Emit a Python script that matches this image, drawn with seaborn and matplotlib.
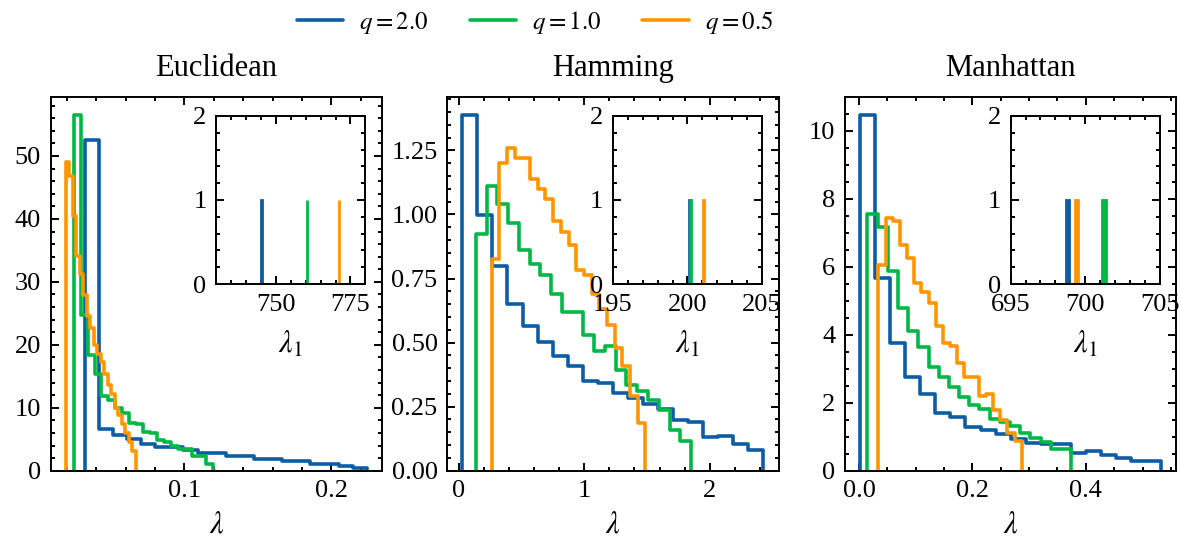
import numpy as np
import pandas as pd
import matplotlib
matplotlib.use("Agg")
import matplotlib.pyplot as plt
import seaborn as sns
from matplotlib.lines import Line2D
from matplotlib.ticker import MultipleLocator

# --- datos ---
metrics = ["Euclidean", "Hamming", "Manhattan"]
q_labels = [r"$q=2.0$", r"$q=1.0$", r"$q=0.5$"]
colors = ["#0C5DA5", "#00B945", "#FF9500"]

# rango (min, max) de cada histograma (20 bins) por q = 2.0, 1.0, 0.5
euc_ranges = [(0.0320, 0.2243), (0.0245, 0.1193), (0.0191, 0.0667)]
ham_ranges = [(0.030, 2.426), (0.137, 1.850), (0.264, 1.486)]
man_ranges = [(0.0018, 0.5330), (0.0147, 0.3741), (0.0341, 0.2871)]

# densidades
euc_q2 = [52.6, 6.6, 5.7, 5.0, 4.3, 3.7, 3.7, 3.3, 2.75, 2.75,
          2.3, 2.3, 1.9, 1.9, 1.5, 1.5, 1.06, 1.06, 0.74, 0.42]
euc_q1 = [56.5, 24.7, 18.4, 15.3, 11.9, 11.3, 9.9, 9.1, 7.6, 7.5,
          6.2, 6.0, 4.9, 4.5, 4.0, 3.4, 3.4, 2.4, 2.4, 1.0]
euc_q05 = [49.0, 46.8, 40.5, 34.1, 31.2, 27.9, 24.6, 22.6, 19.9, 18.5,
           17.3, 15.3, 13.6, 12.2, 10.0, 8.9, 7.5, 6.0, 4.5, 3.2]

ham_q2 = [1.388, 0.997, 0.798, 0.650, 0.563, 0.504, 0.448, 0.407, 0.351, 0.341,
          0.305, 0.285, 0.260, 0.240, 0.197, 0.190, 0.130, 0.135, 0.105, 0.080]
ham_q1 = [0.924, 1.111, 1.039, 0.967, 0.860, 0.808, 0.763, 0.690, 0.620, 0.620,
          0.530, 0.467, 0.485, 0.395, 0.336, 0.310, 0.277, 0.237, 0.160, 0.115]
ham_q05 = [0.827, 1.202, 1.258, 1.221, 1.221, 1.139, 1.098, 1.059, 0.974, 0.931,
           0.879, 0.785, 0.765, 0.690, 0.630, 0.570, 0.480, 0.410, 0.290, 0.185]

man_q2 = [10.46, 5.66, 3.77, 2.765, 2.255, 1.706, 1.588, 1.275, 1.196, 1.078,
          0.931, 0.82, 0.80, 0.80, 0.51, 0.578, 0.46, 0.363, 0.29, 0.29]
man_q1 = [7.55, 7.18, 5.87, 4.80, 4.12, 3.63, 3.06, 2.77, 2.47, 2.18,
          1.93, 1.83, 1.53, 1.43, 1.33, 1.12, 0.97, 0.85, 0.63, 0.63]
man_q05 = [6.05, 7.44, 7.34, 6.64, 6.25, 5.53, 5.26, 4.92, 4.25, 3.76,
           3.67, 3.18, 2.77, 2.77, 2.20, 2.27, 1.78, 1.49, 1.10, 0.88]

# lambda_1 (inset), q = 2.0, 1.0, 0.5
euc_lambda1 = [745.2, 760.4, 771.2]
ham_lambda1 = [200.15, 200.22, 201.08]
man_lambda1 = [698.82, 701.25, 699.42]

# --- estilo ---
sns.set_theme(style="ticks")
plt.rcParams.update({
    "font.family": ["Liberation Serif", "DejaVu Serif"],
    "mathtext.fontset": "stix",
    "font.size": 9.5,
    "axes.titlesize": 11,
    "axes.labelsize": 11,
    "xtick.labelsize": 9.5,
    "ytick.labelsize": 9.5,
    "legend.fontsize": 9,
    "text.color": "black",
    "axes.labelcolor": "black",
    "axes.edgecolor": "black",
    "axes.linewidth": 0.7,
    "xtick.color": "black",
    "ytick.color": "black",
    "xtick.direction": "in",
    "ytick.direction": "in",
    "xtick.top": True,
    "ytick.right": True,
    "xtick.minor.visible": True,
    "ytick.minor.visible": True,
    "xtick.major.size": 3,
    "ytick.major.size": 3,
    "xtick.minor.size": 1.5,
    "ytick.minor.size": 1.5,
    "xtick.major.width": 0.7,
    "ytick.major.width": 0.7,
    "xtick.minor.width": 0.7,
    "ytick.minor.width": 0.7,
})


def step_hist(ax, rng, heights, color):
    lo, hi = rng
    edges = np.linspace(lo, hi, len(heights) + 1)
    eps = (hi - lo) * 1e-6
    # bins vacíos en los extremos para que el contorno baje a cero
    edges = np.concatenate([[lo - eps], edges, [hi + eps]])
    h = np.concatenate([[0.0], heights, [0.0]])
    df = pd.DataFrame({"x": (edges[:-1] + edges[1:]) / 2, "w": h})
    sns.histplot(data=df, x="x", weights="w", bins=list(edges), element="step",
                 fill=False, color=color, linewidth=1.3, ax=ax)


def spike(ax, value, width, color):
    df = pd.DataFrame({"x": [value]})
    sns.histplot(data=df, x="x", bins=[value - width / 2, value + width / 2],
                 element="bars", fill=True, color=color, alpha=1,
                 edgecolor=color, linewidth=1.0, ax=ax)


panels = [
    (euc_ranges, [euc_q2, euc_q1, euc_q05], euc_lambda1, 0.1, 10, (730, 780), 25, 0.1),
    (ham_ranges, [ham_q2, ham_q1, ham_q05], ham_lambda1, 1, 0.25, (195, 205), 5, 0.1),
    (man_ranges, [man_q2, man_q1, man_q05], man_lambda1, 0.2, 2, (695, 705), 5, 0.25),
]

fig = plt.figure(figsize=(1181 / 200, 542 / 200), dpi=200)
lefts = [0.0429, 0.3787, 0.7155]

for i, (rngs, series, lam1, xmaj, ymaj, ilim, imaj, spike_w) in enumerate(panels):
    ax = fig.add_axes([lefts[i], 0.1315, 0.2805, 0.689])
    for rng, h, c in zip(rngs, series, colors):
        step_hist(ax, rng, h, c)
    ymax = max(max(s) for s in series)
    ax.set_ylim(0, ymax * 1.05)
    ax.xaxis.set_major_locator(MultipleLocator(xmaj))
    ax.yaxis.set_major_locator(MultipleLocator(ymaj))
    ax.set_title(metrics[i], pad=7.5)
    ax.set_xlabel(r"$\lambda$", labelpad=3)
    ax.set_ylabel("")

    axin = ax.inset_axes([0.5, 0.5, 0.45, 0.45])
    for v, c in zip(lam1, colors):
        spike(axin, v, spike_w, c)
    axin.set_xlim(*ilim)
    axin.set_ylim(0, 2)
    axin.xaxis.set_major_locator(MultipleLocator(imaj))
    axin.yaxis.set_major_locator(MultipleLocator(1))
    axin.set_xlabel(r"$\lambda_1$", labelpad=5)
    axin.set_ylabel("")

handles = [Line2D([], [], color=c, lw=1.3) for c in colors]
fig.legend(handles, q_labels, loc="upper center", bbox_to_anchor=(0.453, 1.025),
           ncol=3, frameon=False, handlelength=1.85, handletextpad=0.64,
           columnspacing=1.64)

fig.savefig("out.png", dpi=200)
